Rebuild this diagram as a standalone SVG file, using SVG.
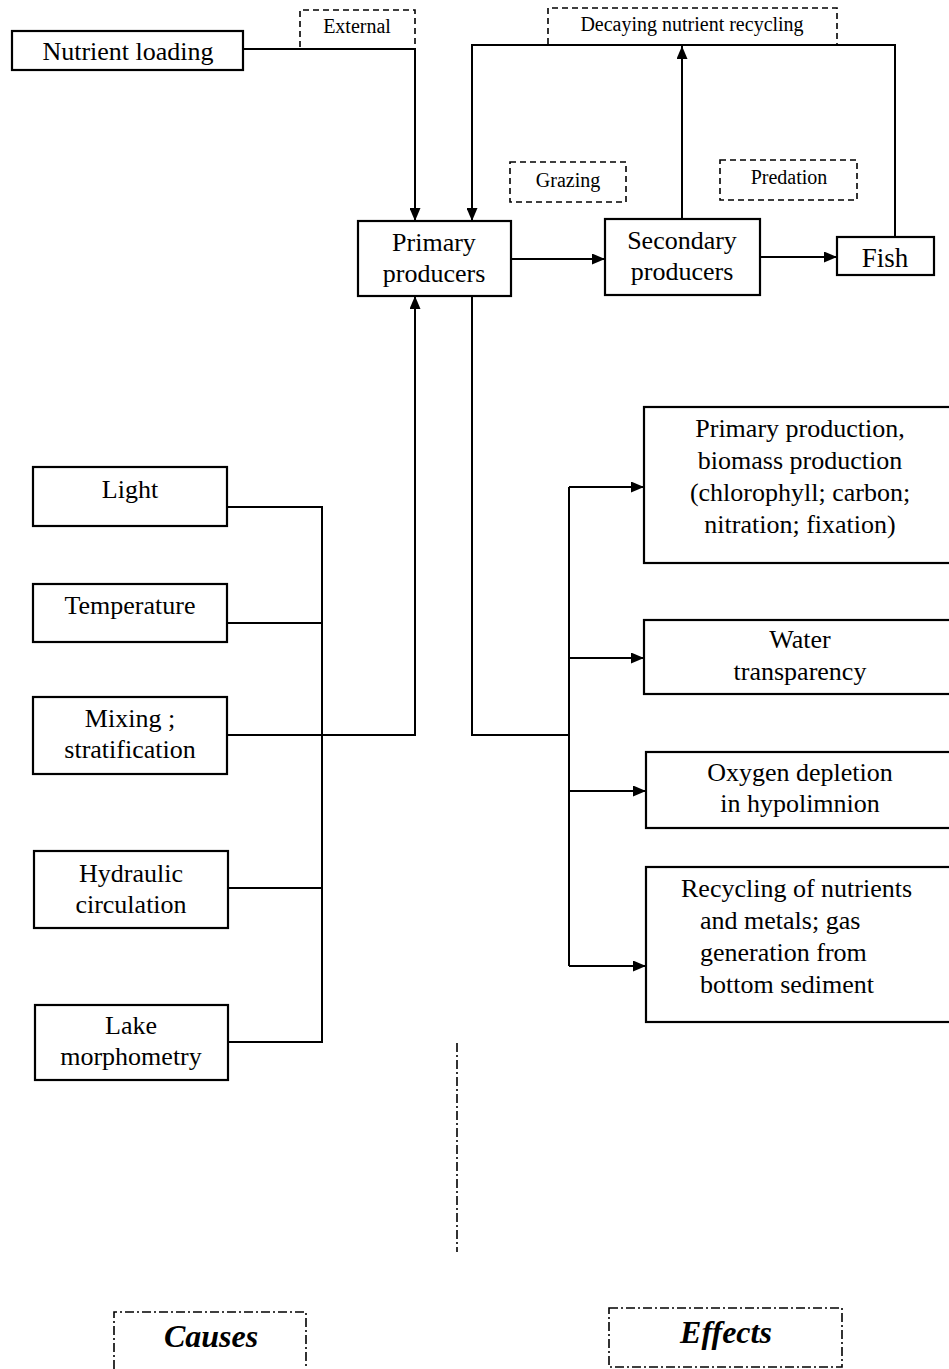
<svg xmlns="http://www.w3.org/2000/svg" width="949" height="1369" viewBox="0 0 949 1369">
<style>
  .box{fill:#fff;stroke:#000;stroke-width:2.2}
  .dash{fill:none;stroke:#000;stroke-width:1.6;stroke-dasharray:6 4}
  .dd{fill:none;stroke:#000;stroke-width:1.6;stroke-dasharray:9 3 2 3}
  .t{font-family:"Liberation Serif","Times New Roman",serif;font-size:26px;fill:#000;text-anchor:middle}
  .s{font-family:"Liberation Serif","Times New Roman",serif;font-size:20px;fill:#000;text-anchor:middle}
  .b{font-family:"Liberation Serif","Times New Roman",serif;font-size:32px;font-weight:bold;font-style:italic;fill:#000;text-anchor:middle}
  .ln{fill:none;stroke:#000;stroke-width:2}
</style>
<defs>
  <marker id="arr" markerUnits="userSpaceOnUse" markerWidth="13" markerHeight="11" refX="13" refY="5.5" orient="auto">
    <path d="M0,0 L13,5.5 L0,11 Z" fill="#000"/>
  </marker>
</defs>

<g id="connectors">
  <path class="ln" d="M243,49 H415 V221" marker-end="url(#arr)"/>
  <path class="ln" d="M895,237 V45 H472 V221" marker-end="url(#arr)"/>
  <path class="ln" d="M682,219 V46" marker-end="url(#arr)"/>
  <path class="ln" d="M511,259 H605" marker-end="url(#arr)"/>
  <path class="ln" d="M760,257 H837" marker-end="url(#arr)"/>
  <path class="ln" d="M227,507 H322 V1042 H228"/>
  <path class="ln" d="M227,623 H322"/>
  <path class="ln" d="M228,888 H322"/>
  <path class="ln" d="M227,735 H415 V296" marker-end="url(#arr)"/>
  <path class="ln" d="M472,296 V735 H569"/>
  <path class="ln" d="M569,487 V966"/>
  <path class="ln" d="M569,487 H644" marker-end="url(#arr)"/>
  <path class="ln" d="M569,658 H644" marker-end="url(#arr)"/>
  <path class="ln" d="M569,791 H646" marker-end="url(#arr)"/>
  <path class="ln" d="M569,966 H646" marker-end="url(#arr)"/>
</g>

<g id="external-label">
  <path class="dash" d="M300,47 V10 H415 V49"/>
  <text class="s" x="357" y="33">External</text>
</g>
<g id="decaying-label">
  <path class="dash" d="M548,44 V8 H837 V44"/>
  <text class="s" x="692" y="31">Decaying nutrient recycling</text>
</g>
<g id="grazing-label">
  <rect class="dash" x="510" y="162" width="116" height="40"/>
  <text class="s" x="568" y="187">Grazing</text>
</g>
<g id="predation-label">
  <rect class="dash" x="720" y="160" width="137" height="40"/>
  <text class="s" x="789" y="184">Predation</text>
</g>

<g id="nutrient-loading">
  <rect class="box" x="12" y="31" width="231" height="39"/>
  <text class="t" x="128" y="60">Nutrient loading</text>
</g>
<g id="primary-producers">
  <rect class="box" x="358" y="221" width="153" height="75"/>
  <text class="t" x="434" y="251">Primary</text>
  <text class="t" x="434" y="282">producers</text>
</g>
<g id="secondary-producers">
  <rect class="box" x="605" y="219" width="155" height="76"/>
  <text class="t" x="682" y="249">Secondary</text>
  <text class="t" x="682" y="280">producers</text>
</g>
<g id="fish">
  <rect class="box" x="837" y="237" width="97" height="38"/>
  <text class="t" x="885" y="267" style="font-size:27px">Fish</text>
</g>

<g id="light">
  <rect class="box" x="33" y="467" width="194" height="59"/>
  <text class="t" x="130" y="498">Light</text>
</g>
<g id="temperature">
  <rect class="box" x="33" y="584" width="194" height="58"/>
  <text class="t" x="130" y="614">Temperature</text>
</g>
<g id="mixing">
  <rect class="box" x="33" y="697" width="194" height="77"/>
  <text class="t" x="130" y="727">Mixing ;</text>
  <text class="t" x="130" y="758">stratification</text>
</g>
<g id="hydraulic">
  <rect class="box" x="34" y="851" width="194" height="77"/>
  <text class="t" x="131" y="882">Hydraulic</text>
  <text class="t" x="131" y="913">circulation</text>
</g>
<g id="lake-morphometry">
  <rect class="box" x="35" y="1005" width="193" height="75"/>
  <text class="t" x="131" y="1034">Lake</text>
  <text class="t" x="131" y="1065">morphometry</text>
</g>

<g id="primary-production">
  <rect class="box" x="644" y="407" width="310" height="156"/>
  <text class="t" x="800" y="437">Primary production,</text>
  <text class="t" x="800" y="469">biomass production</text>
  <text class="t" x="800" y="501">(chlorophyll; carbon;</text>
  <text class="t" x="800" y="533">nitration; fixation)</text>
</g>
<g id="water-transparency">
  <rect class="box" x="644" y="620" width="310" height="74"/>
  <text class="t" x="800" y="648">Water</text>
  <text class="t" x="800" y="680">transparency</text>
</g>
<g id="oxygen-depletion">
  <rect class="box" x="646" y="752" width="308" height="76"/>
  <text class="t" x="800" y="781">Oxygen depletion</text>
  <text class="t" x="800" y="812">in hypolimnion</text>
</g>
<g id="recycling">
  <rect class="box" x="646" y="867" width="308" height="155"/>
  <text class="t" x="681" y="897" style="text-anchor:start">Recycling of nutrients</text>
  <text class="t" x="700" y="929" style="text-anchor:start">and metals; gas</text>
  <text class="t" x="700" y="961" style="text-anchor:start">generation from</text>
  <text class="t" x="700" y="993" style="text-anchor:start">bottom sediment</text>
</g>

<g id="divider">
  <path class="dd" d="M457,1043 V1252"/>
</g>
<g id="causes">
  <path class="dd" d="M114,1369 V1312 H306 V1369"/>
  <text class="b" x="211" y="1347">Causes</text>
</g>
<g id="effects">
  <rect class="dd" x="609" y="1308" width="233" height="59"/>
  <text class="b" x="726" y="1343">Effects</text>
</g>
</svg>
